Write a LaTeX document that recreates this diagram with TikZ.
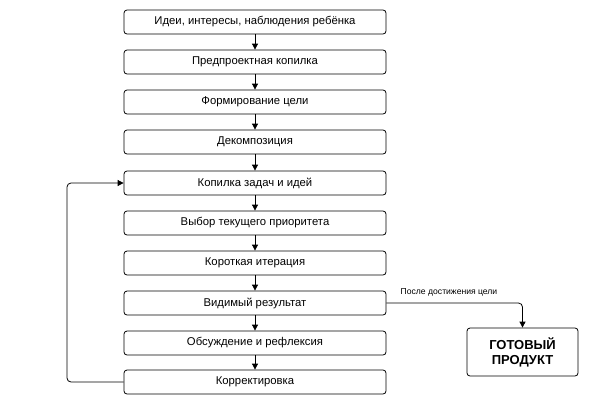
\documentclass[tikz,border=0pt]{standalone}
\usepackage{fontspec}
\setmainfont{Liberation Sans}
\usetikzlibrary{arrows.meta}

\begin{document}
\begin{tikzpicture}[x=1pt, y=-1pt,
  stage/.style={draw, thick, rounded corners=3pt, minimum width=262pt, minimum height=24pt, inner sep=0pt, font=\fontsize{11.3}{13}\selectfont},
  flow/.style={thick, -{Triangle[length=6pt, width=6pt]}}]
\useasboundingbox (0, 0) rectangle (602, 402);

\node[stage] (ideas) at (255, 22) {Идеи, интересы, наблюдения ребёнка};
\node[stage] (prebank) at (255, 62) {Предпроектная копилка};
\node[stage] (goal) at (255, 102) {Формирование цели};
\node[stage] (decomp) at (255, 142) {Декомпозиция};
\node[stage] (tasks) at (255, 183) {Копилка задач и идей};
\node[stage] (prio) at (255, 223) {Выбор текущего приоритета};
\node[stage] (iter) at (255, 263) {Короткая итерация};
\node[stage] (result) at (255, 303) {Видимый результат};
\node[stage] (reflect) at (255, 343) {Обсуждение и рефлексия};
\node[stage] (fix) at (255, 382) {Корректировка};

\draw[flow] (ideas) -- (prebank);
\draw[flow] (prebank) -- (goal);
\draw[flow] (goal) -- (decomp);
\draw[flow] (decomp) -- (tasks);
\draw[flow] (tasks) -- (prio);
\draw[flow] (prio) -- (iter);
\draw[flow] (iter) -- (result);
\draw[flow] (result) -- (reflect);
\draw[flow] (reflect) -- (fix);

% back to the task bank
\coordinate (loop) at (67, 382);
\draw[flow, rounded corners=4pt] (fix.west) -- (loop) |- (tasks.west);

\node[draw, thick, rounded corners=3pt, minimum width=111pt, minimum height=48pt, inner sep=0pt, align=center, font=\fontsize{13}{15}\selectfont\bfseries] (product) at (522.5, 352) {ГОТОВЫЙ\\ПРОДУКТ};

\draw[flow, rounded corners=4pt] (result.east) -| (product.north);
\node[font=\fontsize{8.6}{10}\selectfont] (after) at (449, 292) {После достижения цели};

\end{tikzpicture}
\end{document}
